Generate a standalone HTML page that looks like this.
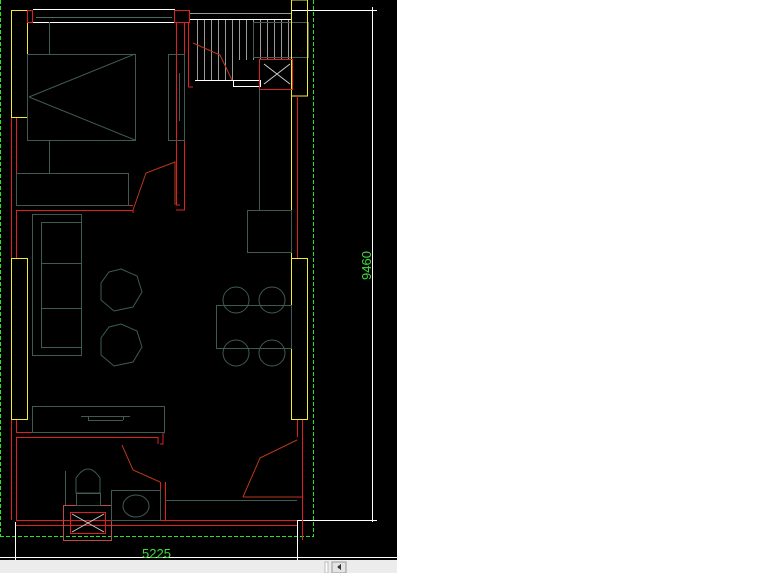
<!DOCTYPE html>
<html><head><meta charset="utf-8"><style>
html,body{margin:0;padding:0;background:#fff;width:768px;height:573px;overflow:hidden}
svg{display:block}
</style></head><body>
<svg width="768" height="573" viewBox="0 0 768 573" xmlns="http://www.w3.org/2000/svg" font-family="Liberation Sans, sans-serif" shape-rendering="crispEdges">
<rect x="0" y="0" width="397" height="560" fill="#000"/>
<rect x="0" y="560" width="397" height="13" fill="#ececec"/>
<rect x="325" y="562" width="3" height="11" fill="#fff" stroke="#bbb"/>
<rect x="332" y="562" width="14" height="11" fill="#e4e4e4" stroke="#999"/>
<path d="M341 564 l-4 3 l4 3z" fill="#333"/>

<g fill="none" stroke-width="1">
<g stroke="#22e822" stroke-dasharray="4,2">
<line x1="0.5" y1="0" x2="0.5" y2="536"/>
<line x1="313.5" y1="0" x2="313.5" y2="536"/>
<line x1="0" y1="536.5" x2="314" y2="536.5"/>
</g>
<g stroke="#fff">
<line x1="292" y1="10.5" x2="377" y2="10.5"/>
<line x1="372.5" y1="7" x2="372.5" y2="522"/>
<line x1="297" y1="520.5" x2="377" y2="520.5"/>
<line x1="15.5" y1="522" x2="15.5" y2="560"/>
<line x1="297.5" y1="520" x2="297.5" y2="560"/>
<line x1="0" y1="557.5" x2="397" y2="557.5"/>
<line x1="33" y1="9.5" x2="175" y2="9.5"/>
<line x1="33" y1="22.5" x2="175" y2="22.5"/>
<line x1="190" y1="19.5" x2="292" y2="19.5"/>
<line x1="195" y1="80.5" x2="233" y2="80.5"/>
<rect x="233.5" y="80.5" width="27" height="6"/>
</g>
<g stroke="#999">
<line x1="190" y1="13.5" x2="292" y2="13.5"/>
<line x1="36" y1="17.5" x2="172" y2="17.5" stroke="#4a6a60"/>
<path d="M197.5 20v60M204.5 20v60M211.5 20v60M218.5 20v60M225.5 20v60M232.5 20v60M239.5 20v40M246.5 20v40M253.5 20v40M260.5 20v40M267.5 20v40M274.5 20v40M281.5 20v40M288.5 20v40"/>
</g>
<rect x="253.5" y="22.5" width="55" height="35" stroke="#4a5a58"/>

<g stroke="#f0ec30">
<rect x="11.5" y="10.5" width="16" height="107"/>
<rect x="11.5" y="258.5" width="16" height="161"/>
<rect x="291.5" y="0" width="16" height="96"/>
<rect x="291.5" y="258.5" width="16" height="161"/>
<line x1="291.5" y1="96" x2="291.5" y2="258"/>
</g>

<g stroke="#e02020">
<rect x="27.5" y="10.5" width="5" height="12"/>
<rect x="174.5" y="10.5" width="15" height="12"/>
<path d="M11.5 118V258M16.5 118V205"/>
<path d="M16.5 205.5H133M16.5 210.5H133V213M16.5 210V258"/>
<path d="M176.5 22V205H180M184.5 22V210H176"/>
<path d="M188.5 22V87H193"/>
<path d="M297.5 96V258"/>
<path d="M11.5 420V520M16.5 420V432.5H163V444H160M16.5 437.5H158V444"/>
<path d="M16.5 437V520"/>
<path d="M160.5 482V520M165.5 482V520"/>
<path d="M16 520.5H297M16 525.5H297"/>
<path d="M297.5 420V437M302.5 420V540M297 497H302"/>
<rect x="259.5" y="59.5" width="33" height="30"/>
<rect x="63.5" y="505.5" width="48" height="35" stroke="#c04848"/>
<rect x="70.5" y="512.5" width="35" height="21"/>
</g>
<g stroke="#ccc" shape-rendering="auto">
<path d="M264 64l26 20M290 64l-26 20"/>
<path d="M72 514l32 18M104 514l-32 18"/>
</g>

<g stroke="#b83818" shape-rendering="auto">
<path d="M133 210L146 173L175 162V205"/>
<path d="M122 445L133 470L160 482"/>
<path d="M243 497L260 458L297 440"/>
<path d="M193 43L220 55L232 80"/>
<path d="M243 497H297"/>
</g>

<g stroke="#3e5a52">
<rect x="27.5" y="54.5" width="108" height="86"/>
<path d="M29 97L135 54M29 97L135 140" shape-rendering="auto"/>
<path d="M49.5 22V54M49.5 140V173"/>
<rect x="16.5" y="173.5" width="112" height="32"/>
<rect x="168.5" y="54.5" width="16" height="86"/>
<path d="M179.5 73v48"/>
<rect x="32.5" y="214.5" width="49" height="141"/>
<rect x="41.5" y="222.5" width="40" height="125"/>
<path d="M41 263.5H81M41 308.5H81"/>
<g shape-rendering="auto">
<polygon points="121,269 137,276 142,292 133,307 114,311 101,300 101,283 109,272"/>
<polygon points="121,324 137,331 142,347 133,362 114,366 101,355 101,338 109,327"/>
<circle cx="236" cy="300" r="13"/><circle cx="272" cy="300" r="13"/>
<circle cx="236" cy="353" r="13"/><circle cx="272" cy="353" r="13"/>
<path d="M76 493 V478 Q88 460 100 478 V493 Z"/>
<ellipse cx="136" cy="506" rx="13" ry="11"/>
</g>
<rect x="216.5" y="305.5" width="75" height="43"/>
<rect x="247.5" y="210.5" width="44" height="42"/>
<path d="M259.5 89V210"/>
<rect x="32.5" y="406.5" width="132" height="26"/>
<path d="M81 416.5H130M88 420.5H123M88.5 416v4M123.5 416v4"/>
<path d="M65.5 471V505"/>
<rect x="76.5" y="493.5" width="24" height="12"/>
<rect x="111.5" y="490.5" width="49" height="30"/>
<path d="M165 500.5H297"/>
</g>
</g>
<text transform="translate(371,280) rotate(-90)" fill="#3ddc3d" font-size="13">9460</text>
<text x="142" y="558" fill="#3ddc3d" font-size="13">5225</text>
</svg>
</body></html>
